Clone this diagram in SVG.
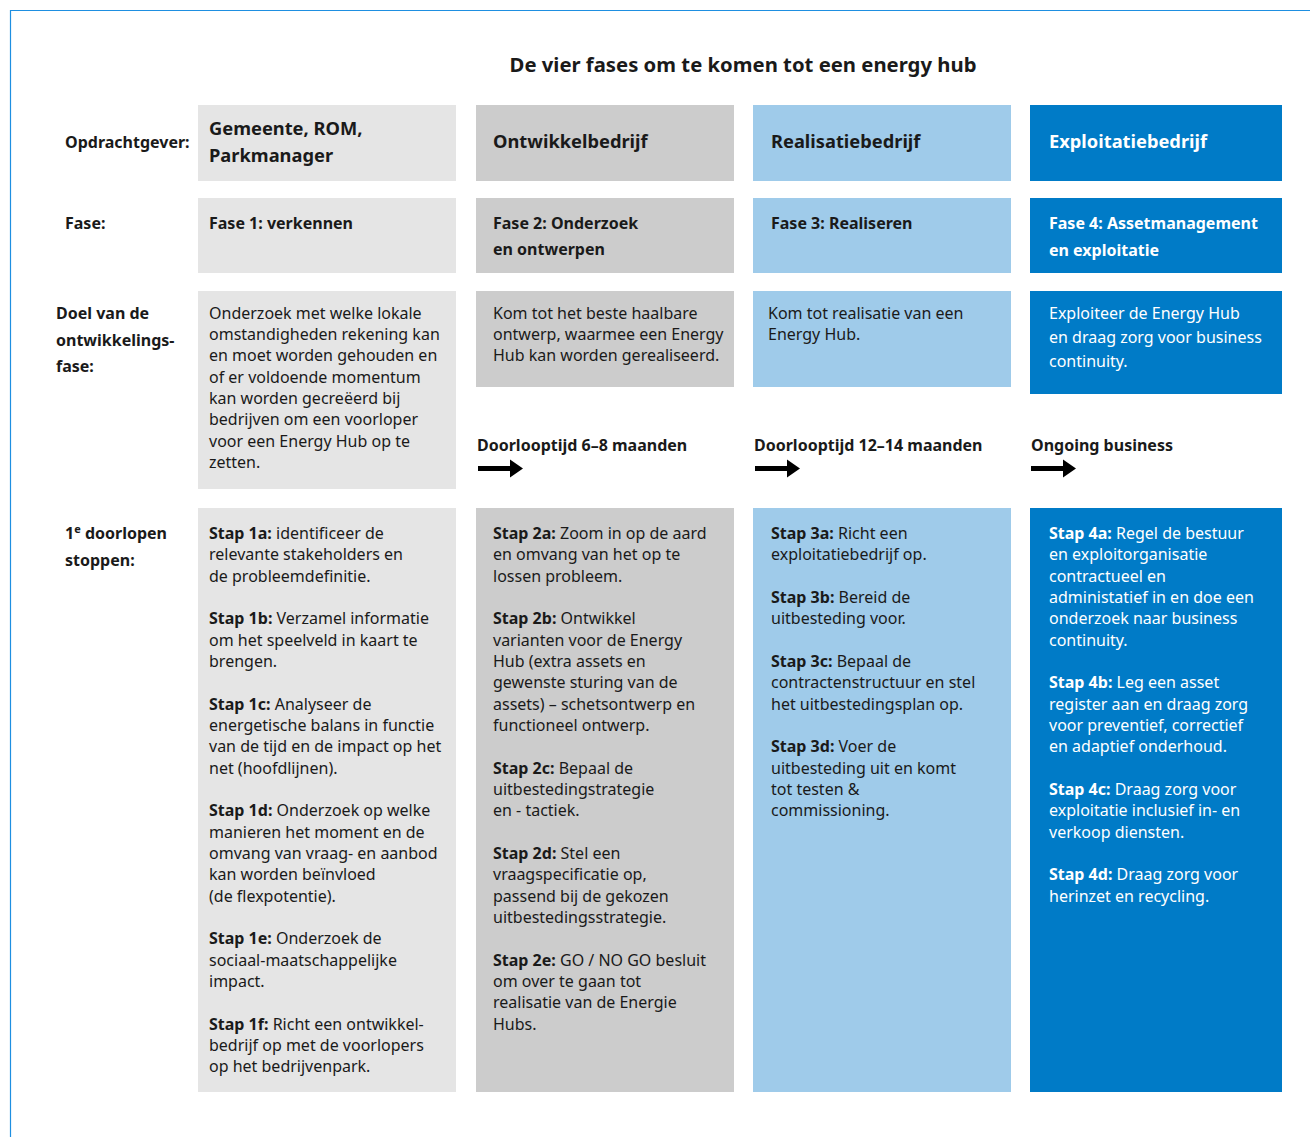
<svg xmlns="http://www.w3.org/2000/svg" width="1310" height="1137" viewBox="0 0 1310 1137">
<style>
text{font-family:"Noto Sans","Open Sans","Liberation Sans",sans-serif;fill:#1a1a1a;font-size:16px}
.b{font-weight:bold}
.h{font-weight:bold;font-size:18.3px}
.p{font-weight:bold;font-size:16px}
.w{fill:#ffffff}
.c1{fill:#e5e5e5}.c2{fill:#cccccc}.c3{fill:#9fcbea}.c4{fill:#007bc7}
</style>
<rect width="1310" height="1137" fill="#ffffff"/>
<path d="M10.5 1137 V10.5 H1310" fill="none" stroke="#1e8fe1" stroke-width="1.2"/>
<text x="743" y="72" text-anchor="middle" class="b" style="font-size:20.3px">De vier fases om te komen tot een energy hub</text>

<g id="labels">
<text x="65" y="148" class="b">Opdrachtgever:</text>
<text x="65" y="229" class="b">Fase:</text>
<text class="b"><tspan x="56" y="319">Doel van de</tspan><tspan x="56" y="346">ontwikkelings-</tspan><tspan x="56" y="372">fase:</tspan></text>
<text class="b"><tspan x="65" y="539">1<tspan font-size="11" dy="-6">e</tspan><tspan dy="6"> doorlopen</tspan></tspan><tspan x="65" y="566">stoppen:</tspan></text>
</g>

<g id="opdrachtgever-1"><rect class="c1" x="198" y="105" width="258" height="76"/>
<text class="h"><tspan x="209" y="135">Gemeente, ROM,</tspan><tspan x="209" y="162">Parkmanager</tspan></text></g>
<g id="opdrachtgever-2"><rect class="c2" x="476" y="105" width="258" height="76"/>
<text class="h" x="493" y="148">Ontwikkelbedrijf</text></g>
<g id="opdrachtgever-3"><rect class="c3" x="753" y="105" width="258" height="76"/>
<text class="h" x="771" y="148">Realisatiebedrijf</text></g>
<g id="opdrachtgever-4"><rect class="c4" x="1030" y="105" width="252" height="76"/>
<text class="h w" x="1049" y="148">Exploitatiebedrijf</text></g>

<g id="fase-1"><rect class="c1" x="198" y="198" width="258" height="75"/>
<text class="p" x="209" y="229">Fase 1: verkennen</text></g>
<g id="fase-2"><rect class="c2" x="476" y="198" width="258" height="75"/>
<text class="p"><tspan x="493" y="229">Fase 2: Onderzoek</tspan><tspan x="493" y="255">en ontwerpen</tspan></text></g>
<g id="fase-3"><rect class="c3" x="753" y="198" width="258" height="75"/>
<text class="p" x="771" y="229">Fase 3: Realiseren</text></g>
<g id="fase-4"><rect class="c4" x="1030" y="198" width="252" height="75"/>
<text class="p w"><tspan x="1049" y="229">Fase 4: Assetmanagement</tspan><tspan x="1049" y="256">en exploitatie</tspan></text></g>

<g id="doel-1"><rect class="c1" x="198" y="291" width="258" height="198"/>
<text><tspan x="209" y="319">Onderzoek met welke lokale</tspan><tspan x="209" y="340">omstandigheden rekening kan</tspan><tspan x="209" y="361">en moet worden gehouden en</tspan><tspan x="209" y="383">of er voldoende momentum</tspan><tspan x="209" y="404">kan worden gecreëerd bij</tspan><tspan x="209" y="425">bedrijven om een voorloper</tspan><tspan x="209" y="447">voor een Energy Hub op te</tspan><tspan x="209" y="468">zetten.</tspan></text></g>
<g id="doel-2"><rect class="c2" x="476" y="291" width="258" height="96"/>
<text><tspan x="493" y="319">Kom tot het beste haalbare</tspan><tspan x="493" y="340">ontwerp, waarmee een Energy</tspan><tspan x="493" y="361">Hub kan worden gerealiseerd.</tspan></text></g>
<g id="doel-3"><rect class="c3" x="753" y="291" width="258" height="96"/>
<text><tspan x="768" y="319">Kom tot realisatie van een</tspan><tspan x="768" y="340">Energy Hub.</tspan></text></g>
<g id="doel-4"><rect class="c4" x="1030" y="291" width="252" height="103"/>
<text class="w"><tspan x="1049" y="319">Exploiteer de Energy Hub</tspan><tspan x="1049" y="343">en draag zorg voor business</tspan><tspan x="1049" y="367">continuity.</tspan></text></g>

<g id="doorlooptijd">
<text class="p" x="477" y="451">Doorlooptijd 6–8 maanden</text>
<text class="p" x="754" y="451">Doorlooptijd 12–14 maanden</text>
<text class="p" x="1031" y="451">Ongoing business</text>
</g>
<g id="connectors" fill="#000000">
<path d="M478 466 H510 V459.5 L523 468.5 L510 477.5 V471 H478 Z"/>
<path d="M755 466 H787 V459.5 L800 468.5 L787 477.5 V471 H755 Z"/>
<path d="M1031 466 H1063 V459.5 L1076 468.5 L1063 477.5 V471 H1031 Z"/>
</g>

<g id="stappen-1"><rect class="c1" x="198" y="508" width="258" height="584"/>
<text>
<tspan x="209" y="539" class="b">Stap 1a:</tspan><tspan> identificeer de</tspan>
<tspan x="209" y="560">relevante stakeholders en</tspan>
<tspan x="209" y="582">de probleemdefinitie.</tspan>
<tspan x="209" y="624" class="b">Stap 1b:</tspan><tspan> Verzamel informatie</tspan>
<tspan x="209" y="646">om het speelveld in kaart te</tspan>
<tspan x="209" y="667">brengen.</tspan>
<tspan x="209" y="710" class="b">Stap 1c:</tspan><tspan> Analyseer de</tspan>
<tspan x="209" y="731">energetische balans in functie</tspan>
<tspan x="209" y="752">van de tijd en de impact op het</tspan>
<tspan x="209" y="774">net (hoofdlijnen).</tspan>
<tspan x="209" y="816" class="b">Stap 1d:</tspan><tspan> Onderzoek op welke</tspan>
<tspan x="209" y="838">manieren het moment en de</tspan>
<tspan x="209" y="859">omvang van vraag- en aanbod</tspan>
<tspan x="209" y="880">kan worden beïnvloed</tspan>
<tspan x="209" y="902">(de flexpotentie).</tspan>
<tspan x="209" y="944" class="b">Stap 1e:</tspan><tspan> Onderzoek de</tspan>
<tspan x="209" y="966">sociaal-maatschappelijke</tspan>
<tspan x="209" y="987">impact.</tspan>
<tspan x="209" y="1030" class="b">Stap 1f:</tspan><tspan> Richt een ontwikkel-</tspan>
<tspan x="209" y="1051">bedrijf op met de voorlopers</tspan>
<tspan x="209" y="1072">op het bedrijvenpark.</tspan>
</text></g>

<g id="stappen-2"><rect class="c2" x="476" y="508" width="258" height="584"/>
<text>
<tspan x="493" y="539" class="b">Stap 2a:</tspan><tspan> Zoom in op de aard</tspan>
<tspan x="493" y="560">en omvang van het op te</tspan>
<tspan x="493" y="582">lossen probleem.</tspan>
<tspan x="493" y="624" class="b">Stap 2b:</tspan><tspan> Ontwikkel</tspan>
<tspan x="493" y="646">varianten voor de Energy</tspan>
<tspan x="493" y="667">Hub (extra assets en</tspan>
<tspan x="493" y="688">gewenste sturing van de</tspan>
<tspan x="493" y="710">assets) – schetsontwerp en</tspan>
<tspan x="493" y="731">functioneel ontwerp.</tspan>
<tspan x="493" y="774" class="b">Stap 2c:</tspan><tspan> Bepaal de</tspan>
<tspan x="493" y="795">uitbestedingstrategie</tspan>
<tspan x="493" y="816">en - tactiek.</tspan>
<tspan x="493" y="859" class="b">Stap 2d:</tspan><tspan> Stel een</tspan>
<tspan x="493" y="880">vraagspecificatie op,</tspan>
<tspan x="493" y="902">passend bij de gekozen</tspan>
<tspan x="493" y="923">uitbestedingsstrategie.</tspan>
<tspan x="493" y="966" class="b">Stap 2e:</tspan><tspan> GO / NO GO besluit</tspan>
<tspan x="493" y="987">om over te gaan tot</tspan>
<tspan x="493" y="1008">realisatie van de Energie</tspan>
<tspan x="493" y="1030">Hubs.</tspan>
</text></g>

<g id="stappen-3"><rect class="c3" x="753" y="508" width="258" height="584"/>
<text>
<tspan x="771" y="539" class="b">Stap 3a:</tspan><tspan> Richt een</tspan>
<tspan x="771" y="560">exploitatiebedrijf op.</tspan>
<tspan x="771" y="603" class="b">Stap 3b:</tspan><tspan> Bereid de</tspan>
<tspan x="771" y="624">uitbesteding voor.</tspan>
<tspan x="771" y="667" class="b">Stap 3c:</tspan><tspan> Bepaal de</tspan>
<tspan x="771" y="688">contractenstructuur en stel</tspan>
<tspan x="771" y="710">het uitbestedingsplan op.</tspan>
<tspan x="771" y="752" class="b">Stap 3d:</tspan><tspan> Voer de</tspan>
<tspan x="771" y="774">uitbesteding uit en komt</tspan>
<tspan x="771" y="795">tot testen &amp;</tspan>
<tspan x="771" y="816">commissioning.</tspan>
</text></g>

<g id="stappen-4"><rect class="c4" x="1030" y="508" width="252" height="584"/>
<text class="w">
<tspan x="1049" y="539" class="b w">Stap 4a:</tspan><tspan> Regel de bestuur</tspan>
<tspan x="1049" y="560">en exploitorganisatie</tspan>
<tspan x="1049" y="582">contractueel en</tspan>
<tspan x="1049" y="603">administatief in en doe een</tspan>
<tspan x="1049" y="624">onderzoek naar business</tspan>
<tspan x="1049" y="646">continuity.</tspan>
<tspan x="1049" y="688" class="b w">Stap 4b:</tspan><tspan> Leg een asset</tspan>
<tspan x="1049" y="710">register aan en draag zorg</tspan>
<tspan x="1049" y="731">voor preventief, correctief</tspan>
<tspan x="1049" y="752">en adaptief onderhoud.</tspan>
<tspan x="1049" y="795" class="b w">Stap 4c:</tspan><tspan> Draag zorg voor</tspan>
<tspan x="1049" y="816">exploitatie inclusief in- en</tspan>
<tspan x="1049" y="838">verkoop diensten.</tspan>
<tspan x="1049" y="880" class="b w">Stap 4d:</tspan><tspan> Draag zorg voor</tspan>
<tspan x="1049" y="902">herinzet en recycling.</tspan>
</text></g>
</svg>
